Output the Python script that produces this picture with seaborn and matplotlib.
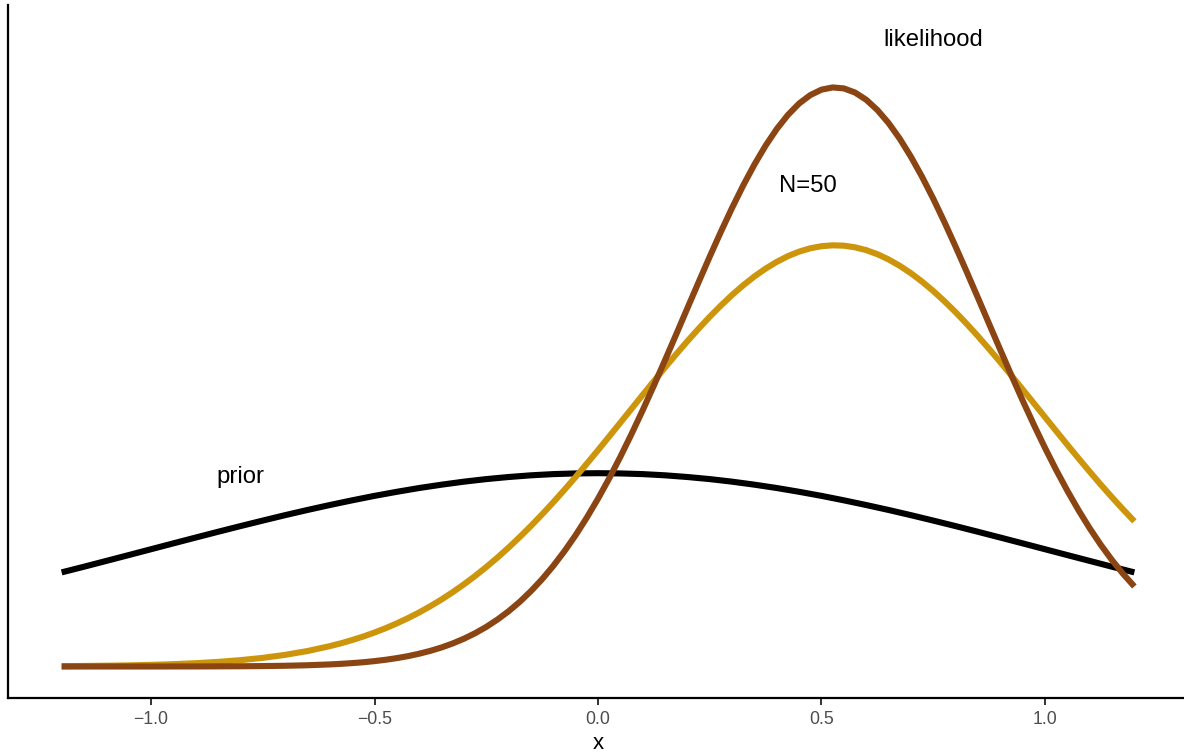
import numpy as np
import pandas as pd
import matplotlib
matplotlib.use("Agg")
import matplotlib.pyplot as plt
import matplotlib.transforms as mtransforms
import seaborn as sns

# x grid (step 0.05 from -1.2 to 1.2)
x_vals = [-1.2, -1.15, -1.1, -1.05, -1.0, -0.95, -0.9, -0.85, -0.8, -0.75,
          -0.7, -0.65, -0.6, -0.55, -0.5, -0.45, -0.4, -0.35, -0.3, -0.25,
          -0.2, -0.15, -0.1, -0.05, 0.0, 0.05, 0.1, 0.15, 0.2, 0.25,
          0.3, 0.35, 0.4, 0.45, 0.5, 0.55, 0.6, 0.65, 0.7, 0.75,
          0.8, 0.85, 0.9, 0.95, 1.0, 1.05, 1.1, 1.15, 1.2]

prior = [0.1942, 0.2059, 0.2179, 0.2299, 0.2420, 0.2541, 0.2661, 0.2780, 0.2897, 0.3011,
         0.3123, 0.3230, 0.3332, 0.3429, 0.3521, 0.3605, 0.3683, 0.3752, 0.3814, 0.3867,
         0.3910, 0.3945, 0.3970, 0.3984, 0.3989, 0.3984, 0.3970, 0.3945, 0.3910, 0.3867,
         0.3814, 0.3752, 0.3683, 0.3605, 0.3521, 0.3429, 0.3332, 0.3230, 0.3123, 0.3011,
         0.2897, 0.2780, 0.2661, 0.2541, 0.2420, 0.2299, 0.2179, 0.2059, 0.1942]

posterior = [0.0007, 0.0011, 0.0016, 0.0023, 0.0034, 0.0048, 0.0068, 0.0095, 0.0131, 0.0178,
             0.0240, 0.0319, 0.0420, 0.0546, 0.0701, 0.0890, 0.1116, 0.1384, 0.1695, 0.2052,
             0.2454, 0.2901, 0.3389, 0.3912, 0.4463, 0.5031, 0.5605, 0.6170, 0.6713, 0.7217,
             0.7667, 0.8049, 0.8350, 0.8561, 0.8673, 0.8684, 0.8592, 0.8400, 0.8116, 0.7749,
             0.7311, 0.6817, 0.6281, 0.5719, 0.5146, 0.4576, 0.4021, 0.3491, 0.2996]

likelihood = [0.0000, 0.0000, 0.0000, 0.0000, 0.0000, 0.0001, 0.0001, 0.0003, 0.0005, 0.0009,
              0.0015, 0.0026, 0.0043, 0.0070, 0.0111, 0.0173, 0.0264, 0.0393, 0.0573, 0.0817,
              0.1140, 0.1556, 0.2077, 0.2711, 0.3463, 0.4327, 0.5288, 0.6322, 0.7394, 0.8458,
              0.9464, 1.0359, 1.1092, 1.1618, 1.1903, 1.1929, 1.1695, 1.1215, 1.0520, 0.9654,
              0.8665, 0.7609, 0.6535, 0.5490, 0.4512, 0.3628, 0.2853, 0.2195, 0.1651]

# extra readings between the grid points where the curves bend
x_mid = [-0.575, -0.525, -0.475, -0.425, -0.375, -0.325, -0.275, -0.225, -0.175, -0.125,
         -0.075, -0.025, 0.025, 0.075, 0.125, 0.175, 0.225, 0.275, 0.325, 0.375,
         0.425, 0.475, 0.525, 0.575, 0.625, 0.675, 0.725, 0.775, 0.825, 0.875,
         0.925, 0.975, 1.025, 1.075, 1.125, 1.175]

posterior_mid = [0.0479, 0.0619, 0.0791, 0.0998, 0.1245, 0.1534, 0.1868, 0.2247, 0.2672, 0.3140,
                 0.3647, 0.4185, 0.4746, 0.5318, 0.5889, 0.6445, 0.6970, 0.7449, 0.7867, 0.8210,
                 0.8468, 0.8630, 0.8691, 0.8650, 0.8508, 0.8269, 0.7942, 0.7538, 0.7070, 0.6553,
                 0.6002, 0.5433, 0.4860, 0.4296, 0.3752, 0.3239]

likelihood_mid = [0.0055, 0.0088, 0.0139, 0.0214, 0.0323, 0.0476, 0.0686, 0.0968, 0.1335, 0.1802,
                  0.2380, 0.3073, 0.3881, 0.4797, 0.5798, 0.6855, 0.7929, 0.8972, 0.9929, 1.0749,
                  1.1383, 1.1791, 1.1949, 1.1844, 1.1484, 1.0892, 1.0105, 0.9171, 0.8142, 0.7071,
                  0.6006, 0.4991, 0.4057, 0.3226, 0.2509, 0.1909]

series_names = ["prior", "posterior", "likelihood"]
series_colors = ["#000000", "#CD950C", "#8B4513"]

label_text = ["prior", "N=50", "likelihood"]
label_x = [-0.8, 0.47, 0.75]
label_y = [0.4, 1.0, 1.3]

x_ticks = [-1.0, -0.5, 0.0, 0.5, 1.0]
x_tick_labels = ["\u22121.0", "\u22120.5", "0.0", "0.5", "1.0"]

df = pd.DataFrame({
    "x": x_vals + x_vals + x_mid + x_vals + x_mid,
    "y": prior + posterior + posterior_mid + likelihood + likelihood_mid,
    "series": [series_names[0]] * len(x_vals)
              + [series_names[1]] * (len(x_vals) + len(x_mid))
              + [series_names[2]] * (len(x_vals) + len(x_mid)),
})

sns.set_theme(style="white")
plt.rcParams["font.family"] = ["Liberation Sans", "DejaVu Sans"]

fig = plt.figure(figsize=(11.84, 7.54), dpi=100)
ax = fig.add_axes([8 / 1184, 56 / 754, 1180 / 1184, 693 / 754])

sns.lineplot(data=df, x="x", y="y", hue="series", hue_order=series_names,
             palette=dict(zip(series_names, series_colors)), linewidth=4.4,
             legend=False, ax=ax, sort=True, estimator=None)
for ln in ax.get_lines():
    ln.set_solid_capstyle("butt")
    ln.set_solid_joinstyle("round")

offset = mtransforms.ScaledTranslation(0, -4 / 100, fig.dpi_scale_trans)
for t, tx, ty in zip(label_text, label_x, label_y):
    ax.text(tx, ty, t, ha="center", va="center", fontsize=17.2, color="black",
            transform=ax.transData + offset)

ax.set_xlim(-1.32, 1.32)
ax.set_ylim(-0.065, 1.365)
ax.set_xticks(x_ticks)
ax.set_xticklabels(x_tick_labels)
ax.set_yticks([])
ax.set_xlabel("x", fontsize=16, color="black", labelpad=4)
ax.set_ylabel("")

for s in ["top", "right"]:
    ax.spines[s].set_visible(False)
for s in ["left", "bottom"]:
    ax.spines[s].set_visible(True)
    ax.spines[s].set_color("black")
    ax.spines[s].set_linewidth(1.6)

ax.tick_params(axis="x", which="both", bottom=True, length=5, width=1.4,
               color="#333333", labelsize=12.7, labelcolor="#4D4D4D", pad=4)
ax.grid(False)
ax.set_facecolor("white")

fig.savefig("out.png", dpi=100, facecolor="white")
